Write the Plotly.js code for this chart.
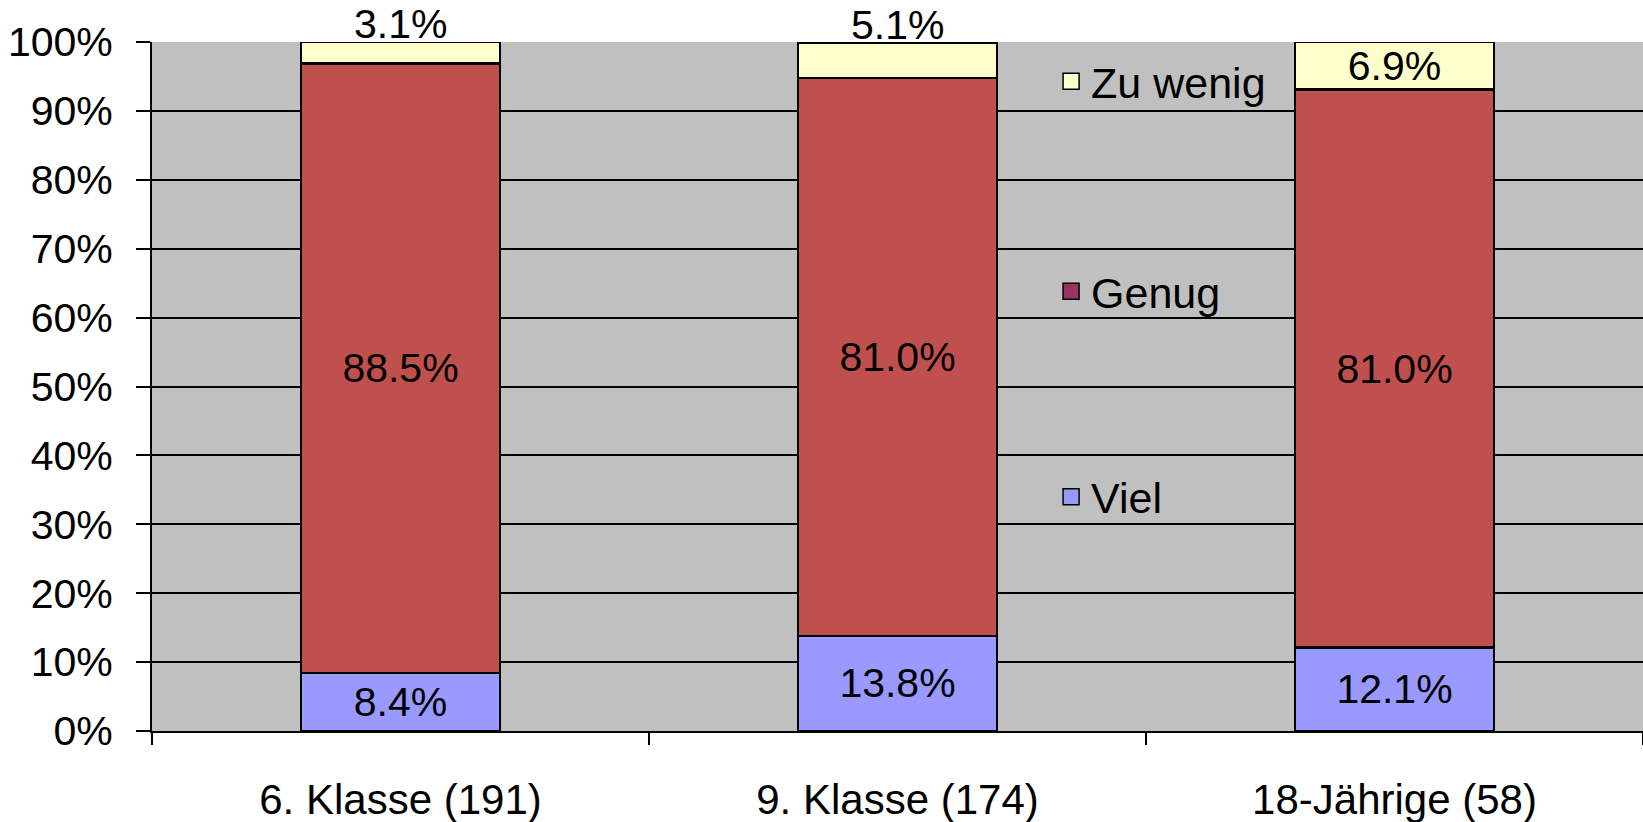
<!DOCTYPE html>
<html>
<head>
<meta charset="utf-8">
<script src="https://cdn.plot.ly/plotly-3.0.1.min.js"></script>
<style>html,body{margin:0;padding:0;background:#fff;}#chart{width:1643px;height:822px;}</style>
</head>
<body>
<div id="chart"></div>
<script>
const categories = ["6. Klasse (191)", "9. Klasse (174)", "18-Jährige (58)"];
const viel = [8.4, 13.8, 12.1];
const genug = [88.5, 81.0, 81.0];
const zuWenig = [3.1, 5.1, 6.9];
const zuWenigLabelOutside = [true, true, false];
const seriesNames = ["Viel", "Genug", "Zu wenig"];

const FONT = "Liberation Sans, Arial, sans-serif";
const labelFont = {family: FONT, size: 41, color: "#000"};

function barTrace(name, vals, color, textpos) {
  return {
    type: "bar", name: name, x: categories, y: vals,
    marker: {color: color, line: {color: "#000", width: 2.5}},
    texttemplate: "%{y:.1f}%",
    textposition: textpos,
    insidetextanchor: "middle",
    constraintext: "none",
    cliponaxis: false,
    textfont: labelFont, insidetextfont: labelFont, outsidetextfont: labelFont,
    showlegend: false, hoverinfo: "skip"
  };
}

function legendTrace(name, color, leg) {
  return {
    type: "scatter", mode: "markers", name: name, x: [null], y: [null],
    marker: {symbol: "square", size: 19, color: color, line: {color: "#000", width: 1.5}},
    legend: leg, showlegend: true, hoverinfo: "skip"
  };
}

const data = [
  barTrace(seriesNames[0], viel, "#9999FF", "inside"),
  barTrace(seriesNames[1], genug, "#C0504D", "inside"),
  barTrace(seriesNames[2], zuWenig, "#FFFFCC", zuWenigLabelOutside.map(o => o ? "none" : "inside")),
  legendTrace(seriesNames[2], "#FFFFCC", "legend"),
  legendTrace(seriesNames[1], "#993366", "legend2"),
  legendTrace(seriesNames[0], "#9999FF", "legend3")
];

// labels of the thin top segments sit just above the stack
const annotations = [];
categories.forEach((c, i) => {
  if (zuWenigLabelOutside[i]) {
    annotations.push({
      x: c, y: viel[i] + genug[i] + zuWenig[i], xref: "x", yref: "y",
      text: zuWenig[i].toFixed(1) + "%", showarrow: false,
      yanchor: "middle", yshift: 18, font: labelFont
    });
  }
});

const legBase = {
  font: {family: FONT, size: 43, color: "#000"},
  bgcolor: "rgba(0,0,0,0)", borderwidth: 0,
  xanchor: "left", yanchor: "middle", x: 0.603
};

const layout = {
  width: 1643, height: 822,
  margin: {l: 152, r: 0, t: 42, b: 91, pad: 0},
  paper_bgcolor: "#FFFFFF",
  plot_bgcolor: "#C0C0C0",
  font: {family: FONT, size: 40, color: "#000"},
  barmode: "stack",
  bargap: 0.6,
  showlegend: true,
  legend: Object.assign({}, legBase, {y: 0.943}),
  legend2: Object.assign({}, legBase, {y: 0.638}),
  legend3: Object.assign({}, legBase, {y: 0.340}),
  annotations: annotations,
  xaxis: {
    type: "category", range: [-0.5, 2.5],
    showline: true, linecolor: "#000", linewidth: 2,
    ticks: "outside", tickson: "boundaries", ticklen: 12, tickwidth: 2, tickcolor: "#000",
    tickfont: {family: FONT, size: 42, color: "#000"},
    ticklabelstandoff: 31,
    showgrid: false, zeroline: false, fixedrange: true
  },
  yaxis: {
    range: [0, 100], dtick: 10, tick0: 0, ticksuffix: "%",
    showline: true, linecolor: "#000", linewidth: 2,
    ticks: "outside", ticklen: 14, tickwidth: 2, tickcolor: "#000",
    tickfont: {family: FONT, size: 41, color: "#000"},
    ticklabelstandoff: 15,
    showgrid: true, gridcolor: "#000", gridwidth: 2,
    zeroline: false, fixedrange: true
  }
};

Plotly.newPlot("chart", data, layout, {displayModeBar: false, responsive: false});
</script>
</body>
</html>
